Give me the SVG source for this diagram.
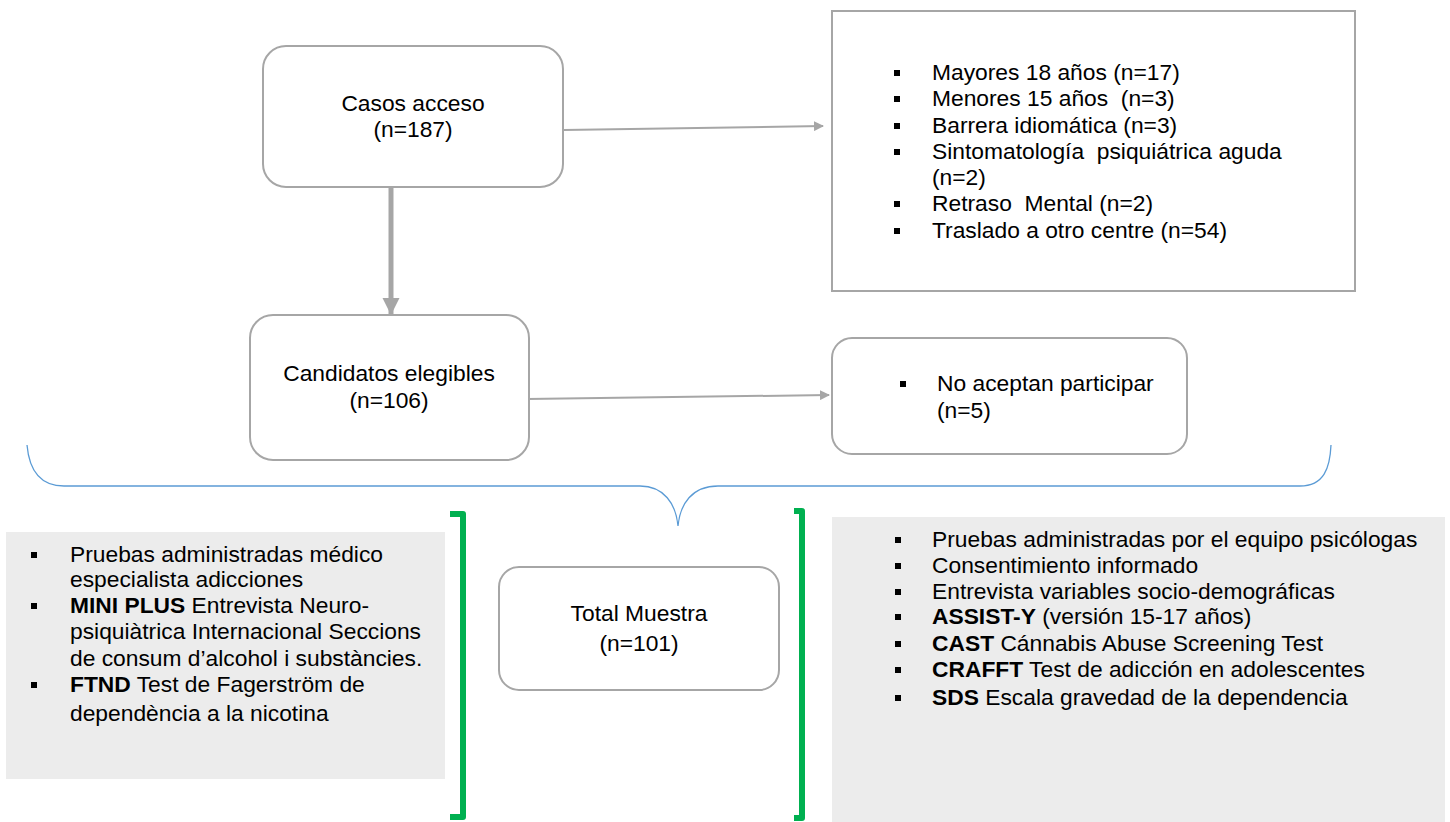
<svg xmlns="http://www.w3.org/2000/svg" width="1450" height="822" viewBox="0 0 1450 822">
<style>
text{font-family:"Liberation Sans",Arial,sans-serif;font-size:22.8px;fill:#000;white-space:pre}
.c{text-anchor:middle}
.b{font-weight:bold}
.box{fill:#fff;stroke:#a6a6a6;stroke-width:2}
.gray{fill:#ececec;stroke:none}
.con{stroke:#a6a6a6;fill:none}
.br{stroke:#00b050;stroke-width:6;fill:none;stroke-linejoin:round}
</style>
<defs>
<marker id="ah" markerWidth="10" markerHeight="10" refX="9" refY="5" orient="auto" markerUnits="userSpaceOnUse">
<path d="M0,0 L10,5 L0,10 Z" fill="#a6a6a6"/>
</marker>
<marker id="ahb" markerWidth="17" markerHeight="19" refX="17" refY="8.5" orient="auto" markerUnits="userSpaceOnUse">
<path d="M0,0 L17,8.5 L0,17 Z" fill="#a6a6a6"/>
</marker>
<symbol id="bl" overflow="visible"><rect x="-3" y="-3" width="6" height="6" fill="#000"/></symbol>
</defs>

<g id="connectors">
<line class="con" x1="564" y1="130" x2="823" y2="126" stroke-width="2" marker-end="url(#ah)"/>
<line class="con" x1="391" y1="188" x2="391" y2="315" stroke-width="5" marker-end="url(#ahb)"/>
<line class="con" x1="527" y1="399" x2="829" y2="395" stroke-width="2" marker-end="url(#ah)"/>
<path d="M27,445 C29,468 38,486 64,486 L640,486 C664,486 676,504 678,526 C680,504 692,486 718,486 L1300,486 C1324,486 1330,468 1331,445" fill="none" stroke="#5b9bd5" stroke-width="1.3"/>
</g>

<g id="casos">
<rect class="box" x="263" y="46" width="300" height="141" rx="23"/>
<text class="c" x="413" y="111">Casos acceso</text>
<text class="c" x="413" y="137">(n=187)</text>
</g>

<g id="exclusiones">
<rect x="832" y="11" width="523" height="280" fill="#fff" stroke="#a6a6a6" stroke-width="2"/>
<use href="#bl" x="897" y="73"/><text x="932" y="80">Mayores 18 años (n=17)</text>
<use href="#bl" x="897" y="99"/><text x="932" y="106">Menores 15 años  (n=3)</text>
<use href="#bl" x="897" y="126"/><text x="932" y="133">Barrera idiomática (n=3)</text>
<use href="#bl" x="897" y="152"/><text x="932" y="159">Sintomatología  psiquiátrica aguda</text>
<text x="932" y="185">(n=2)</text>
<use href="#bl" x="897" y="204"/><text x="932" y="211">Retraso  Mental (n=2)</text>
<use href="#bl" x="897" y="231"/><text x="932" y="238">Traslado a otro centre (n=54)</text>
</g>

<g id="candidatos">
<rect class="box" x="250" y="315" width="279" height="145" rx="23"/>
<text class="c" x="389" y="381">Candidatos elegibles</text>
<text class="c" x="389" y="408">(n=106)</text>
</g>

<g id="noaceptan">
<rect class="box" x="832" y="338" width="355" height="116" rx="20"/>
<use href="#bl" x="903" y="384"/><text x="937" y="391">No aceptan participar</text>
<text x="937" y="418">(n=5)</text>
</g>

<g id="medico">
<rect class="gray" x="6" y="532" width="439" height="247"/>
<use href="#bl" x="34" y="555"/><text x="70" y="562">Pruebas administradas médico</text>
<text x="70" y="587">especialista adicciones</text>
<use href="#bl" x="34" y="606"/><text x="70" y="613"><tspan class="b">MINI PLUS</tspan> Entrevista Neuro-</text>
<text x="70" y="639">psiquiàtrica Internacional Seccions</text>
<text x="70" y="666">de consum d’alcohol i substàncies.</text>
<use href="#bl" x="34" y="685"/><text x="70" y="692"><tspan class="b">FTND</tspan> Test de Fagerström de</text>
<text x="70" y="721">dependència a la nicotina</text>
</g>

<g id="bracket-left">
<path class="br" d="M450,514 L463,514 L463,817 L450,817"/>
</g>

<g id="total">
<rect class="box" x="499" y="567" width="280" height="123" rx="20"/>
<text class="c" x="639" y="621">Total Muestra</text>
<text class="c" x="639" y="651">(n=101)</text>
</g>

<g id="bracket-right">
<path class="br" d="M794,511 L802,511 L802,818 L794,818"/>
</g>

<g id="psicologas">
<rect class="gray" x="832" y="517" width="613" height="305"/>
<use href="#bl" x="898" y="540"/><text x="932" y="547">Pruebas administradas por el equipo psicólogas</text>
<use href="#bl" x="898" y="566"/><text x="932" y="573">Consentimiento informado</text>
<use href="#bl" x="898" y="592"/><text x="932" y="599">Entrevista variables socio-demográficas</text>
<use href="#bl" x="898" y="617"/><text x="932" y="624"><tspan class="b">ASSIST-Y</tspan> (versión 15-17 años)</text>
<use href="#bl" x="898" y="644"/><text x="932" y="651"><tspan class="b">CAST</tspan> Cánnabis Abuse Screening Test</text>
<use href="#bl" x="898" y="670"/><text x="932" y="677"><tspan class="b">CRAFFT</tspan> Test de adicción en adolescentes</text>
<use href="#bl" x="898" y="698"/><text x="932" y="705"><tspan class="b">SDS</tspan> Escala gravedad de la dependencia</text>
</g>
</svg>
